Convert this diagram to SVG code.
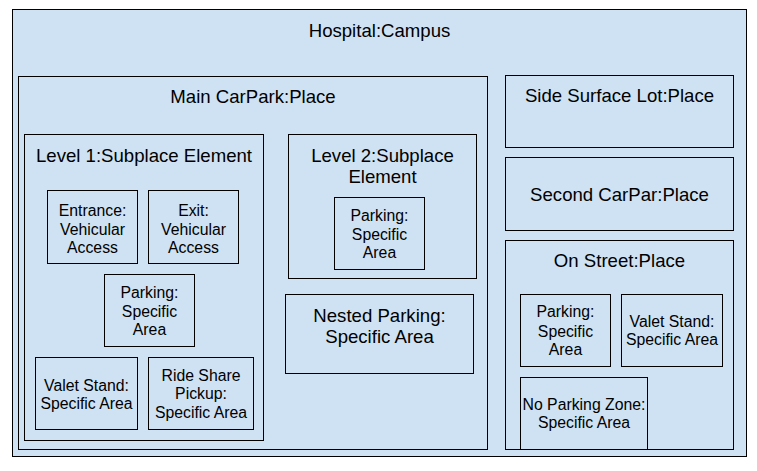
<svg xmlns="http://www.w3.org/2000/svg" width="757" height="471" viewBox="0 0 757 471">
<style>
rect.box{fill:#cfe2f3;stroke:#000;stroke-width:1}
text{font-family:"Liberation Sans",Arial,sans-serif;fill:#000;text-anchor:middle}
text.t{font-size:18.6px}
text.s{font-size:15.8px}
</style>
<rect x="0" y="0" width="757" height="471" fill="#fff"/>
<g id="hospital"><rect class="box" x="12.5" y="9.5" width="734" height="447"/><text class="t" x="379.5" y="36.5">Hospital:Campus</text></g>
<g id="main-carpark"><rect class="box" x="18.5" y="76.5" width="469" height="373"/><text class="t" x="253" y="102.5">Main CarPark:Place</text></g>
<g id="level1"><rect class="box" x="24.5" y="134.5" width="239" height="306"/><text class="t" x="144" y="161.7">Level 1:Subplace Element</text></g>
<g id="entrance"><rect class="box" x="47.5" y="190.5" width="90" height="73"/><text class="s" x="92.5"><tspan x="92.5" y="215.7">Entrance:</tspan><tspan x="92.5" y="235">Vehicular</tspan><tspan x="92.5" y="253.3">Access</tspan></text></g>
<g id="exit"><rect class="box" x="148.5" y="190.5" width="90" height="73"/><text class="s" x="193.5"><tspan x="193.5" y="215.7">Exit:</tspan><tspan x="193.5" y="235">Vehicular</tspan><tspan x="193.5" y="253.3">Access</tspan></text></g>
<g id="parking-l1"><rect class="box" x="104.5" y="274.5" width="90" height="72"/><text class="s" x="149.5"><tspan x="149.5" y="298">Parking:</tspan><tspan x="149.5" y="316.8">Specific</tspan><tspan x="149.5" y="335.2">Area</tspan></text></g>
<g id="valet-l1"><rect class="box" x="35.5" y="357.5" width="102" height="72"/><text class="s" x="86.5"><tspan x="86.5" y="390.7">Valet Stand:</tspan><tspan x="86.5" y="409.3">Specific Area</tspan></text></g>
<g id="rideshare"><rect class="box" x="148.5" y="357.5" width="105" height="72"/><text class="s" x="201"><tspan x="201" y="380.7">Ride Share</tspan><tspan x="201" y="399.3">Pickup:</tspan><tspan x="201" y="418.3">Specific Area</tspan></text></g>
<g id="level2"><rect class="box" x="288.5" y="134.5" width="188" height="144"/><text class="t" x="382.5"><tspan x="382.5" y="161.7">Level 2:Subplace</tspan><tspan x="382.5" y="183.3">Element</tspan></text></g>
<g id="parking-l2"><rect class="box" x="334.5" y="197.5" width="90" height="72"/><text class="s" x="379.5"><tspan x="379.5" y="220.7">Parking:</tspan><tspan x="379.5" y="240">Specific</tspan><tspan x="379.5" y="258.3">Area</tspan></text></g>
<g id="nested-parking"><rect class="box" x="285.5" y="294.5" width="188" height="79"/><text class="t" x="379.5"><tspan x="379.5" y="321.7">Nested Parking:</tspan><tspan x="379.5" y="342.5">Specific Area</tspan></text></g>
<g id="side-surface"><rect class="box" x="505.5" y="75.5" width="228" height="72"/><text class="t" x="619.5" y="102.3">Side Surface Lot:Place</text></g>
<g id="second-carpark"><rect class="box" x="505.5" y="157.5" width="228" height="73"/><text class="t" x="619.5" y="201.2">Second CarPar:Place</text></g>
<g id="on-street"><rect class="box" x="505.5" y="240.5" width="228" height="209"/><text class="t" x="619.5" y="267">On Street:Place</text></g>
<g id="parking-os"><rect class="box" x="520.5" y="294.5" width="90" height="72"/><text class="s" x="565.5"><tspan x="565.5" y="317.3">Parking:</tspan><tspan x="565.5" y="336.5">Specific</tspan><tspan x="565.5" y="354.5">Area</tspan></text></g>
<g id="valet-os"><rect class="box" x="621.5" y="294.5" width="101" height="72"/><text class="s" x="672"><tspan x="672" y="326.7">Valet Stand:</tspan><tspan x="672" y="345">Specific Area</tspan></text></g>
<g id="no-parking"><rect class="box" x="520.5" y="377.5" width="127" height="72"/><text class="s" x="584"><tspan x="584" y="410">No Parking Zone:</tspan><tspan x="584" y="428.3">Specific Area</tspan></text></g>
<g id="connectors"></g>
</svg>
